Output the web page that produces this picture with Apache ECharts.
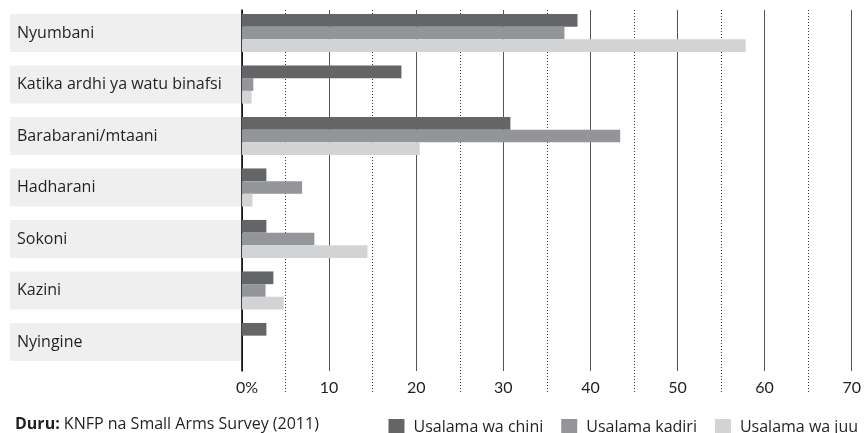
<!DOCTYPE html>
<html>
<head>
<meta charset="utf-8">
<script src="https://cdn.jsdelivr.net/npm/echarts@6/dist/echarts.min.js"></script>
<style>
html,body{margin:0;padding:0;background:#fff;}
#c{width:864px;height:433px;}
</style>
</head>
<body>
<div id="c"></div>
<script>
const categories = ["Nyumbani", "Katika ardhi ya watu binafsi", "Barabarani/mtaani", "Hadharani", "Sokoni", "Kazini", "Nyingine"];
const seriesNames = ["Usalama wa chini", "Usalama kadiri", "Usalama wa juu"];
const lowSecurity = [38.5, 18.3, 30.8, 2.8, 2.8, 3.6, 2.8];
const mediumSecurity = [37.0, 1.3, 43.4, 6.9, 8.3, 2.7, 0];
const highSecurity = [57.8, 1.1, 20.4, 1.2, 14.4, 4.8, 0];
const xMin = 0, xMax = 70, xStep = 10;
const sourceLabel = "Duru:";
const sourceText = " KNFP na Small Arms Survey (2011)";

const colors = ["#646567", "#939598", "#d2d3d5"];
const font = "Open Sans";
const tickFont = "Lato";

const chart = echarts.init(document.getElementById('c'), null, {renderer: 'canvas'});
const valueAxisBase = {min: xMin, max: xMax, interval: xStep, axisLine: {show: false}, axisTick: {show: false}};
chart.setOption({
  animation: false,
  textStyle: {fontFamily: font, color: '#231f20'},
  title: {
    left: 10, top: 411,
    text: '{b|' + sourceLabel + '}{n|' + sourceText + '}',
    textStyle: {fontWeight: 'normal', fontSize: 16, rich: {
      b: {fontFamily: font, fontWeight: 'bold', fontSize: 16, color: '#231f20'},
      n: {fontFamily: font, fontWeight: 'normal', fontSize: 16, color: '#231f20'}
    }}
  },
  legend: {
    right: 1, top: 414, itemWidth: 16, itemHeight: 16, itemGap: 18, icon: 'rect',
    data: seriesNames,
    textStyle: {fontFamily: font, fontSize: 16, color: '#231f20', padding: [0, 0, 0, 4]}
  },
  grid: [
    {left: 242, right: 12, top: 7.25, height: 360.5},
    {left: 242, right: 12, top: 10, bottom: 62},
    {left: 242, right: 12, top: 10, bottom: 41}
  ],
  xAxis: [
    Object.assign({type: 'value', gridIndex: 0, axisLabel: {show: false}, splitLine: {show: false}}, valueAxisBase),
    Object.assign({type: 'value', gridIndex: 1,
      axisLabel: {show: true, margin: 9, fontFamily: tickFont, fontSize: 16, color: '#231f20',
        formatter: v => v === 0 ? '{z|0%}' : String(v),
        rich: {z: {fontFamily: tickFont, fontSize: 16, color: '#231f20', padding: [0, 0, 0, 10]}}},
      splitLine: {show: true, lineStyle: {color: '#555', width: 1}}}, valueAxisBase),
    Object.assign({type: 'value', gridIndex: 2, axisLabel: {show: false}, splitLine: {show: false},
      minorTick: {show: false, splitNumber: 2},
      minorSplitLine: {show: true, lineStyle: {color: '#333', width: 1, type: [1, 2]}}}, valueAxisBase)
  ],
  yAxis: [
    {type: 'category', gridIndex: 0, data: categories, inverse: true,
      axisLine: {show: false}, axisTick: {show: false},
      axisLabel: {interval: 0, align: 'left', margin: 232, fontFamily: font, fontSize: 16, color: '#231f20',
        backgroundColor: '#efefef', width: 224, height: 38, lineHeight: 38, padding: [0, 0, 0, 7], verticalAlign: 'middle'}},
    {type: 'value', gridIndex: 1, axisLabel: {show: false}, splitLine: {show: false}, axisTick: {show: false},
      axisLine: {show: true, lineStyle: {color: '#000', width: 1.5}}},
    {type: 'value', gridIndex: 2, show: false}
  ],
  series: [
    {name: seriesNames[0], type: 'bar', xAxisIndex: 0, yAxisIndex: 0, data: lowSecurity, barCategoryGap: '26%', barGap: 0, itemStyle: {color: colors[0]}, z: 5},
    {name: seriesNames[1], type: 'bar', xAxisIndex: 0, yAxisIndex: 0, data: mediumSecurity, barCategoryGap: '26%', barGap: 0, itemStyle: {color: colors[1]}, z: 5},
    {name: seriesNames[2], type: 'bar', xAxisIndex: 0, yAxisIndex: 0, data: highSecurity, barCategoryGap: '26%', barGap: 0, itemStyle: {color: colors[2]}, z: 5}
  ]
});
</script>
</body>
</html>
